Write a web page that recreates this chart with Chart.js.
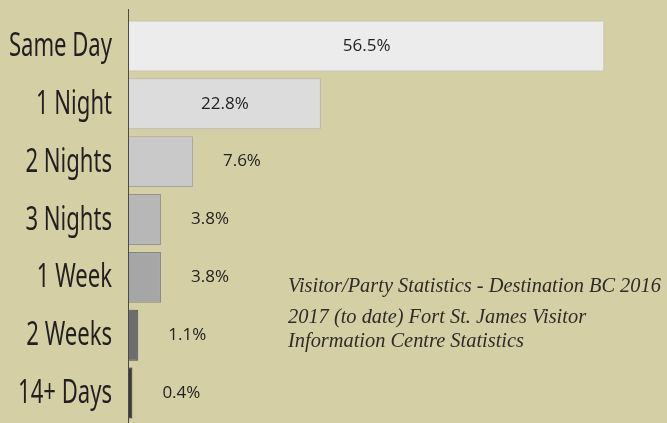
<!DOCTYPE html>
<html>
<head>
<meta charset="utf-8">
<script src="https://cdn.jsdelivr.net/npm/chart.js@4.4.0/dist/chart.umd.min.js"></script>
<style>
    html, body { margin: 0; padding: 0; background: #d5cfa6; }
    #wrap { width: 667px; height: 423px; position: relative; }
</style>
</head>
<body>
<div id="wrap"><canvas id="chartStay"></canvas></div>
<script>
// length of stay categories
var arrLabels = ['Same Day', '1 Night', '2 Nights', '3 Nights', '1 Week', '2 Weeks', '14+ Days'];
var arrValues = [56.5, 22.8, 7.6, 3.8, 3.8, 1.1, 0.4];
var arrFill = ['#ececec', '#dcdcdc', '#c9c9c9', '#b7b7b7', '#a6a6a6', '#6d6d6d', '#3b3b3b'];
var arrBorder = ['#bdbdbd', '#b3b3b3', '#a3a3a3', '#949494', '#868686', '#505050', '#2a2a2a'];
var arrNote = [
    'Visitor/Party Statistics - Destination BC 2016',
    '2017 (to date) Fort St. James Visitor',
    'Information Centre Statistics'
];

// category names, drawn condensed at the y scale tick positions
const catLabels = {
    id: 'catLabels',
    afterDraw: function (chart) {
        const ctx = chart.ctx;
        const yScale = chart.scales.y;
        ctx.save();
        ctx.font = '32px "Noto Sans", "Open Sans", sans-serif';
        ctx.fillStyle = '#231f20';
        ctx.textAlign = 'right';
        ctx.textBaseline = 'middle';
        for (let i = 0; i < arrLabels.length; i++) {
            let y = yScale.getPixelForTick(i);
            ctx.save();
            ctx.translate(yScale.right - 17, y + 1);
            ctx.scale(0.69, 1);
            ctx.fillText(arrLabels[i], 0, 0);
            ctx.restore();
        }
        ctx.restore();
    }
};

// value labels, inside the two long bars, outside for the rest
const valueLabels = {
    id: 'valueLabels',
    afterDatasetsDraw: function (chart) {
        const ctx = chart.ctx;
        const meta = chart.getDatasetMeta(0);
        ctx.save();
        ctx.font = '17px "Open Sans", "Noto Sans", sans-serif';
        ctx.fillStyle = '#222222';
        ctx.textAlign = 'center';
        ctx.textBaseline = 'middle';
        meta.data.forEach(function (bar, i) {
            let v = arrValues[i];
            let x;
            if (v > 20) {
                x = (bar.base + bar.x) / 2;
            } else {
                x = bar.x + 49;
            }
            ctx.fillText(v.toFixed(1) + '%', x, bar.y);
        });
        ctx.restore();
    }
};

// axis line and source note
const extras = {
    id: 'extras',
    afterDraw: function (chart) {
        const ctx = chart.ctx;
        const area = chart.chartArea;
        ctx.save();
        ctx.strokeStyle = '#4a4a4a';
        ctx.lineWidth = 1;
        ctx.beginPath();
        ctx.moveTo(area.left - 0.5, area.top - 8);
        ctx.lineTo(area.left - 0.5, chart.height);
        ctx.stroke();

        ctx.font = 'italic 20.4px "Liberation Serif", "DejaVu Serif", serif';
        ctx.fillStyle = '#2e2b28';
        ctx.textAlign = 'left';
        ctx.textBaseline = 'alphabetic';
        let ys = [292, 323, 347];
        for (let i = 0; i < arrNote.length; i++) {
            ctx.fillText(arrNote[i], 288, ys[i]);
        }
        ctx.restore();
    }
};

let ctxStay = document.getElementById('chartStay').getContext('2d');
let stayChart = new Chart(ctxStay, {
    type: 'bar',
    data: {
        labels: arrLabels,
        datasets: [{
            data: arrValues,
            backgroundColor: arrFill,
            borderColor: arrBorder,
            borderWidth: 1,
            barPercentage: 0.88,
            categoryPercentage: 1
        }]
    },
    plugins: [catLabels, valueLabels, extras],
    options: {
        indexAxis: 'y',
        responsive: true,
        maintainAspectRatio: false,
        animation: false,
        layout: {
            padding: { top: 17, bottom: 1, right: 8, left: 0 }
        },
        plugins: {
            legend: { display: false },
            tooltip: { enabled: false }
        },
        scales: {
            x: {
                display: false,
                min: 0,
                max: 63
            },
            y: {
                afterFit: function (scale) {
                    scale.width = 129;
                    scale.paddingTop = 0;
                    scale.paddingBottom = 0;
                },
                border: { display: false },
                grid: { display: false, drawTicks: false },
                ticks: { display: false }
            }
        }
    }
});
</script>
</body>
</html>
